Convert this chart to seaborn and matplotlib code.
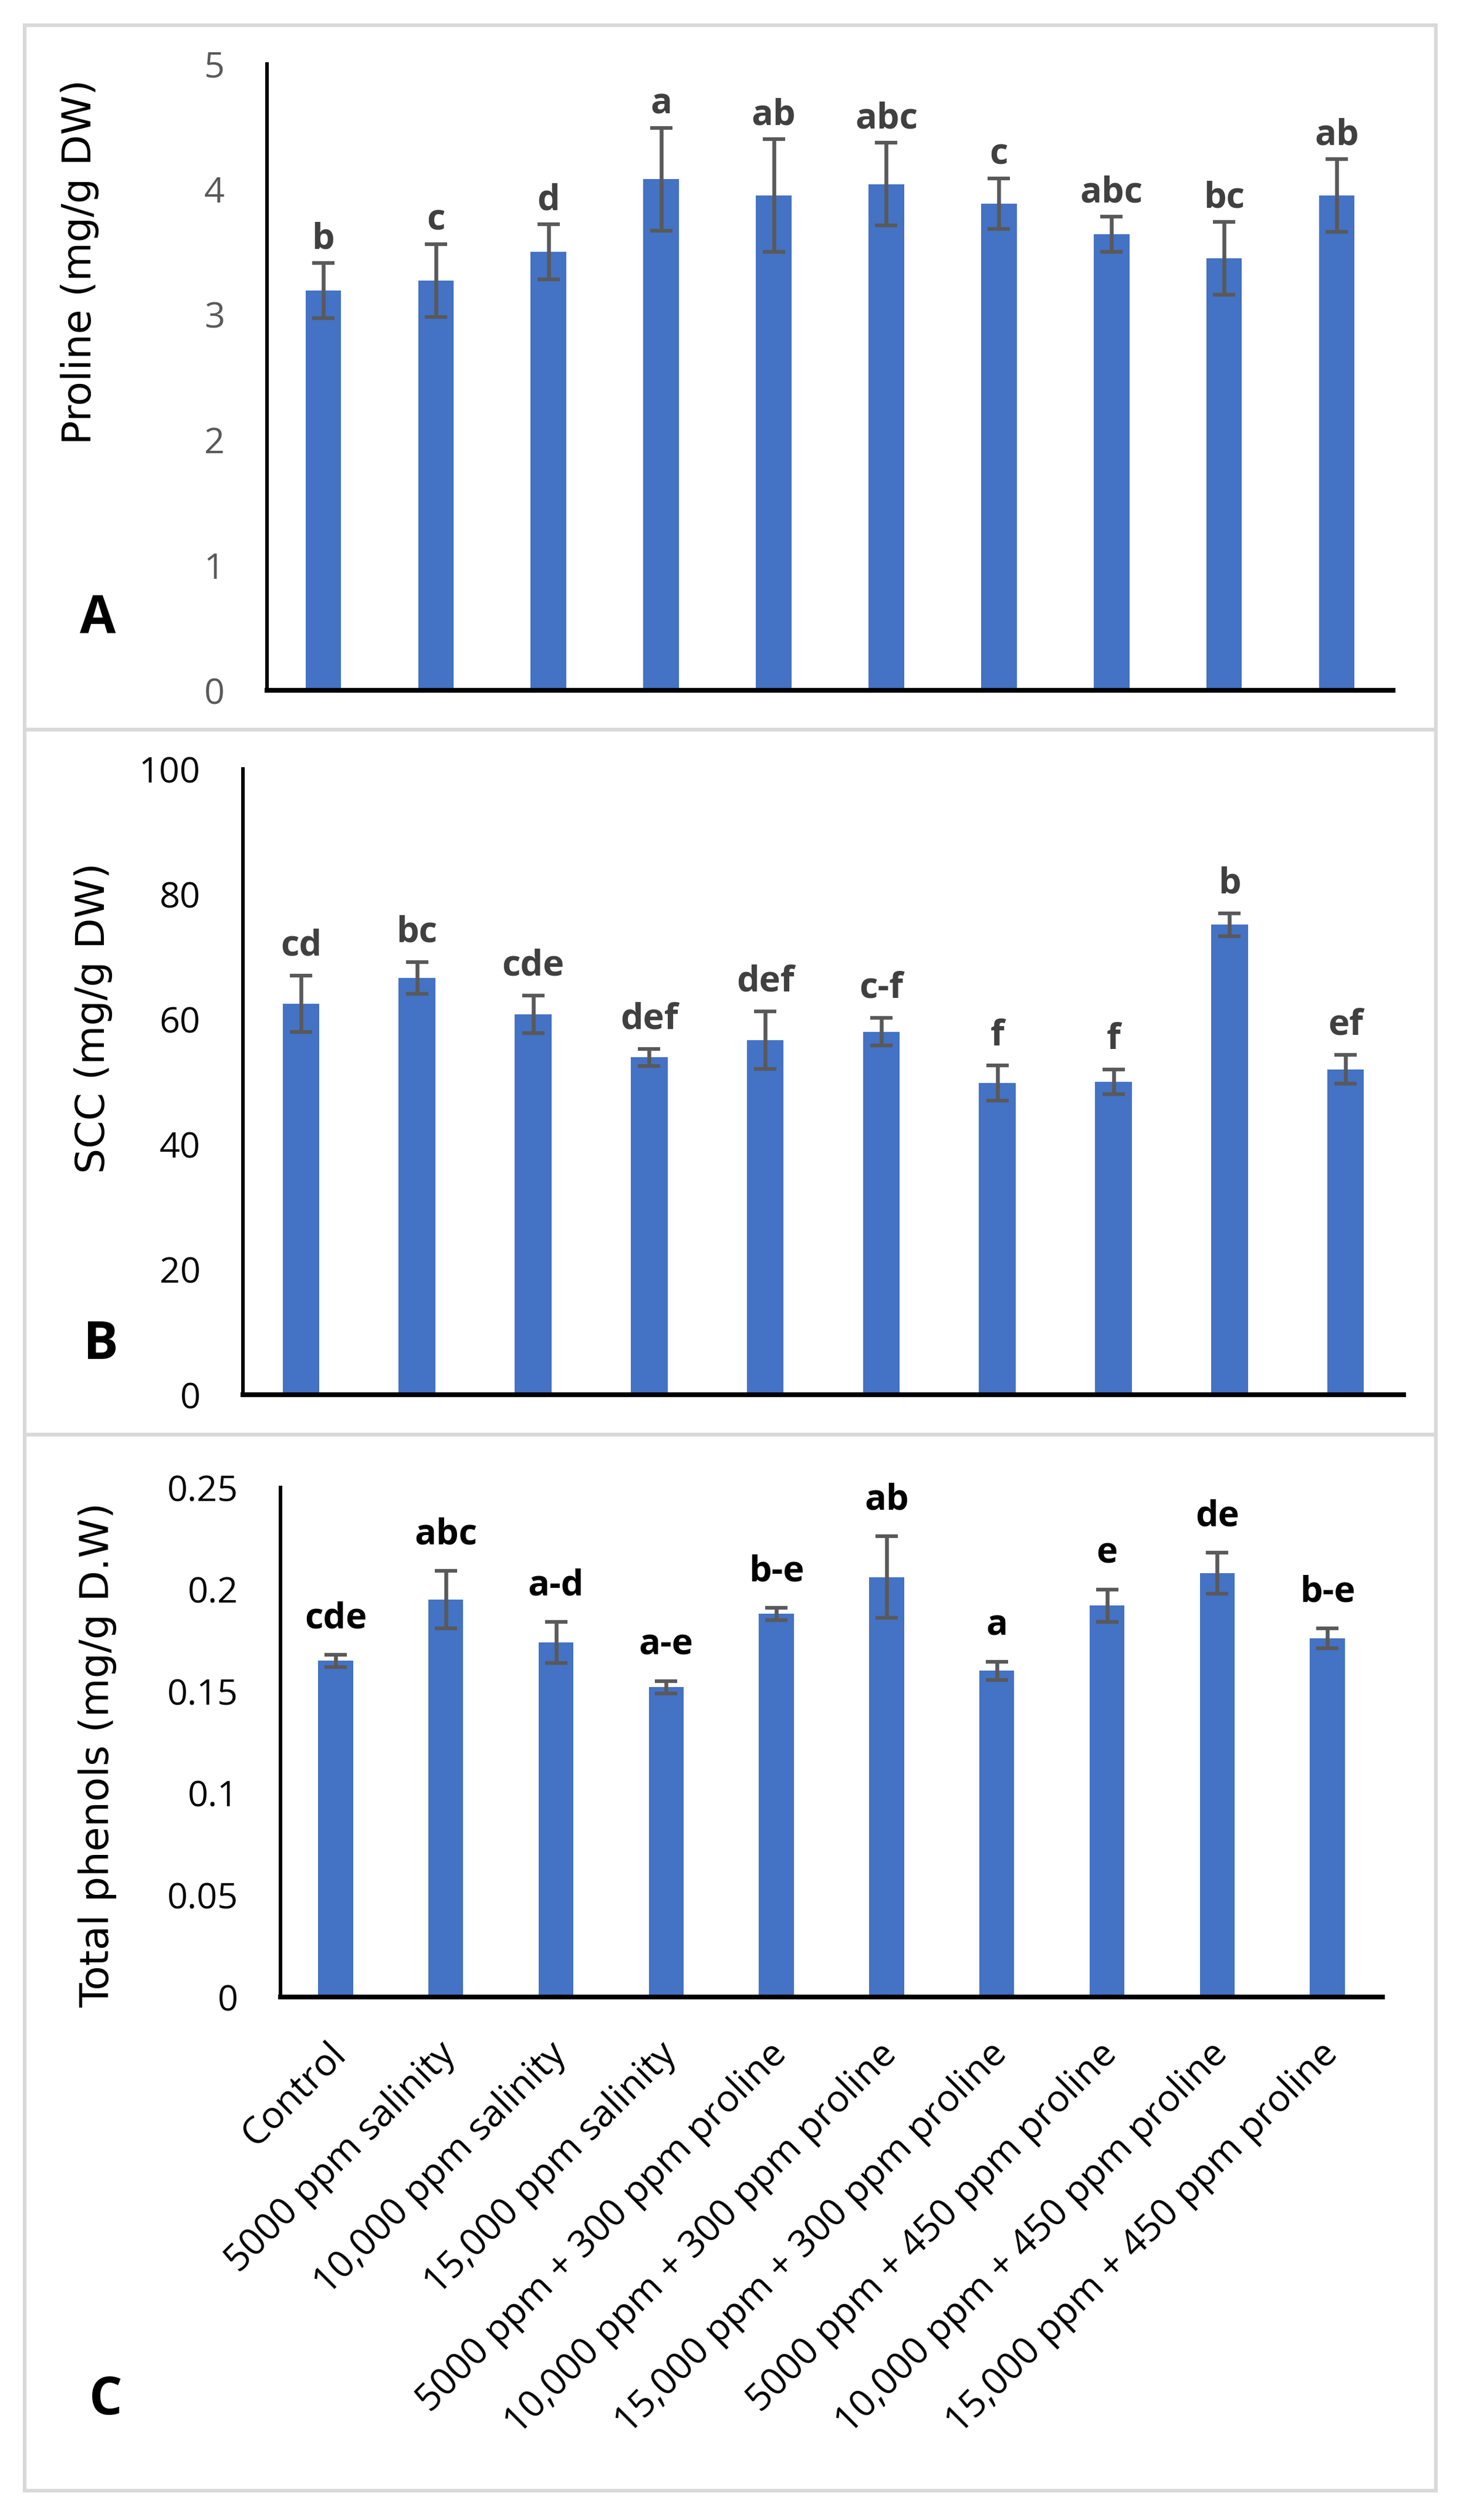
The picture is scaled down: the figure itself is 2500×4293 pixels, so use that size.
import numpy as np
import pandas as pd
import matplotlib
matplotlib.use("Agg")
import matplotlib.pyplot as plt
import matplotlib.transforms as mtransforms
from matplotlib.patches import Rectangle
from matplotlib.ticker import FuncFormatter
import seaborn as sns

sns.set_style("white")
plt.rcParams['font.family'] = ['Open Sans', 'DejaVu Sans']

treatments = ["Control", "5000 ppm salinity", "10,000 ppm salinity", "15,000 ppm salinity",
              "5000 ppm + 300 ppm proline", "10,000 ppm + 300 ppm proline",
              "15,000 ppm + 300 ppm proline", "5000 ppm + 450 ppm proline",
              "10,000 ppm + 450 ppm proline", "15,000 ppm + 450 ppm proline"]

proline = [3.19, 3.27, 3.50, 4.08, 3.95, 4.04, 3.885, 3.64, 3.45, 3.95]
proline_err = [0.22, 0.29, 0.22, 0.41, 0.45, 0.33, 0.20, 0.14, 0.29, 0.29]
proline_letters = ["b", "c", "d", "a", "ab", "abc", "c", "abc", "bc", "ab"]

scc = [62.5, 66.6, 60.8, 53.9, 56.7, 58.0, 49.8, 50.0, 75.1, 52.0]
scc_err = [4.5, 2.5, 3.0, 1.4, 4.6, 2.2, 2.8, 2.0, 1.8, 2.3]
scc_letters = ["cd", "bc", "cde", "def", "def", "c-f", "f", "f", "b", "ef"]

phenols = [0.165, 0.195, 0.174, 0.152, 0.188, 0.206, 0.160, 0.192, 0.208, 0.176]
phenols_err = [0.003, 0.014, 0.010, 0.003, 0.003, 0.020, 0.0045, 0.008, 0.010, 0.005]
phenols_letters = ["cde", "abc", "a-d", "a-e", "b-e", "ab", "a", "e", "de", "b-e"]

W, H = 2500, 4293
fig = plt.figure(figsize=(W / 100, H / 100), dpi=100)

BAR = "#4472C4"
ERR = "#595959"


def px_axes(left, top, right, bottom):
    return fig.add_axes([left / W, 1 - bottom / H, (right - left) / W, (bottom - top) / H])


# gray panel frames
for top, bottom in [(43, 1243), (1243, 2444), (2444, 4243)]:
    fig.patches.append(Rectangle((42 / W, 1 - bottom / H), (2447 - 42) / W, (bottom - top) / H,
                                 transform=fig.transFigure, fill=False,
                                 edgecolor="#D9D9D9", linewidth=4.5))


def panel(ax, values, errs, letters, ylim, step, ylabel, lab_xy, tick_col, let_col, let_off):
    df = pd.DataFrame({"treatment": treatments, "value": values})
    sns.barplot(data=df, x="treatment", y="value", color=BAR, saturation=1,
                width=0.316, errorbar=None, linewidth=0, ax=ax)
    ax.errorbar(range(len(values)), values, yerr=errs, fmt="none", ecolor=ERR,
                elinewidth=4.7, capsize=13.5, capthick=4.5, zorder=3)
    for i, (v, e, t) in enumerate(zip(values, errs, letters)):
        ax.annotate(t, (i, v + e), xytext=(0, let_off), textcoords="offset points",
                    ha="center", va="bottom", fontsize=44, fontweight="bold",
                    color=let_col)
    ax.set_xlim(-0.5, len(values) - 0.5)
    ax.set_ylim(0, ylim)
    ax.set_yticks(np.arange(0, ylim + step / 2, step))
    ax.yaxis.set_major_formatter(FuncFormatter(lambda y, p: f"{round(y, 4):g}"))
    for s in ["top", "right"]:
        ax.spines[s].set_visible(False)
    ax.spines["left"].set_linewidth(4.3)
    ax.spines["bottom"].set_linewidth(5.8)
    ax.spines["left"].set_color("black")
    ax.spines["bottom"].set_color("black")
    ax.tick_params(axis="y", length=0, pad=52, labelsize=44, labelcolor=tick_col)
    ax.tick_params(axis="x", length=0)
    ax.set_xlabel("")
    ax.set_ylabel(ylabel, fontsize=49, family="DejaVu Sans", color="black")
    ax.yaxis.label.set_va("center")
    ax.yaxis.set_label_coords(*lab_xy)
    ax.grid(False)


axA = px_axes(455, 109, 2374, 1176)
panel(axA, proline, proline_err, proline_letters, 5, 1, "Proline (mg/g DW)",
      (-0.166, 0.684), "#595959", "#404040", 7)
axA.tick_params(axis="x", labelbottom=False)

axB = px_axes(414, 1310, 2392, 2376)
panel(axB, scc, scc_err, scc_letters, 100, 20, "SCC (mg/g DW)",
      (-0.129, 0.602), "black", "#404040", 14)
axB.tick_params(axis="x", labelbottom=False)

axC = px_axes(478, 2534, 2356, 3402)
panel(axC, phenols, phenols_err, phenols_letters, 0.25, 0.05, "Total phenols (mg/g D.W)",
      (-0.166, 0.475), "black", "black", 22)
axC.tick_params(axis="x", pad=47)
axC.set_xticks(range(len(treatments)))
axC.set_xticklabels(treatments, rotation=45, ha="right", va="top",
                    rotation_mode="anchor", fontsize=46, color="black")
shift = mtransforms.ScaledTranslation(-0.15, 0, fig.dpi_scale_trans)
for lab in axC.get_xticklabels():
    lab.set_transform(lab.get_transform() + shift)

for txt, (x, y) in zip(["A", "B", "C"], [(167, 1055), (172, 2292), (180, 4090)]):
    fig.text(x / W, 1 - y / H, txt, ha="center", va="center", fontsize=64,
             fontweight="bold", color="black")

fig.savefig("out.png", dpi=100)
